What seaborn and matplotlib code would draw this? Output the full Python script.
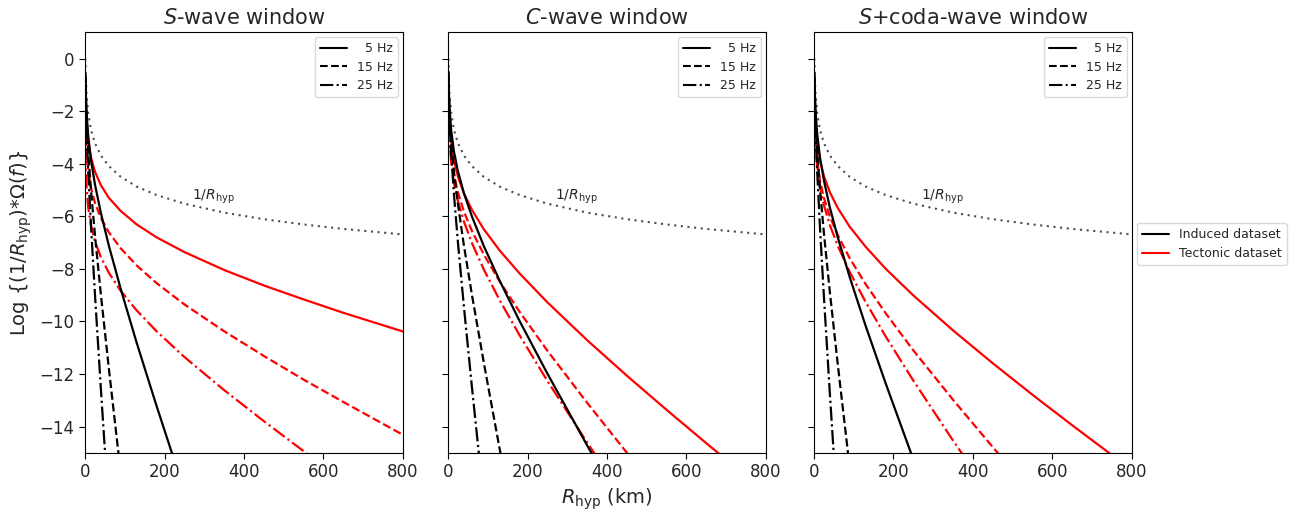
import matplotlib
matplotlib.use("Agg")
import matplotlib.pyplot as plt
import numpy as np
import pandas as pd
import seaborn as sns

# Hypocentral distance samples (km)
r_hyp = [1, 2, 4, 8, 15, 25, 40, 60, 90, 130, 180, 250, 350, 450, 550, 650, 800]

# Geometric spreading reference, log(1/R)
spreading = [0.0, -0.69, -1.39, -2.08, -2.71, -3.22, -3.69, -4.09, -4.50,
             -4.87, -5.19, -5.52, -5.86, -6.11, -6.31, -6.48, -6.69]

frequencies = ["5 Hz", "15 Hz", "25 Hz"]
windows = ["$S$-wave window", "$C$-wave window", "$S$+coda-wave window"]

# S-wave window
s_induced = {
    "5 Hz":  [-0.57, -1.31, -2.08, -2.94, -3.86, -4.79, -5.88, -7.12, -8.77, -10.81, -13.21, -16.45],
    "15 Hz": [-0.62, -1.43, -2.37, -3.54, -5.01, -6.72, -8.99, -11.79, -15.79],
    "25 Hz": [-0.71, -1.61, -2.73, -4.26, -6.36, -8.97, -12.59, -17.19],
}
s_tectonic = {
    "5 Hz":  [-1.00, -1.70, -2.40, -3.11, -3.76, -4.30, -4.82, -5.30, -5.80, -6.31, -6.80, -7.36, -8.04, -8.63, -9.16, -9.67, -10.38],
    "15 Hz": [-2.11, -2.81, -3.51, -4.23, -4.91, -5.49, -6.07, -6.61, -7.22, -7.87, -8.54, -9.35, -10.37, -11.31, -12.21, -13.06, -14.31],
    "25 Hz": [-3.51, -4.21, -4.92, -5.65, -6.35, -6.95, -7.56, -8.15, -8.84, -9.58, -10.37, -11.35, -12.61, -13.79, -14.93, -16.02],
}

# C-wave window
c_induced = {
    "5 Hz":  [-0.49, -1.21, -1.95, -2.74, -3.54, -4.29, -5.12, -6.00, -7.13, -8.45, -9.98, -11.98, -14.71, -17.36],
    "15 Hz": [-0.57, -1.34, -2.18, -3.16, -4.30, -5.54, -7.11, -8.97, -11.56, -14.85, -18.81],
    "25 Hz": [-0.63, -1.46, -2.41, -3.63, -5.18, -7.00, -9.44, -12.47, -16.82],
}
c_tectonic = {
    "5 Hz":  [-1.01, -1.72, -2.43, -3.17, -3.87, -4.49, -5.13, -5.75, -6.49, -7.30, -8.17, -9.27, -10.71, -12.06, -13.36, -14.63, -16.49],
    "15 Hz": [-1.49, -2.20, -2.92, -3.68, -4.43, -5.10, -5.82, -6.55, -7.45, -8.48, -9.63, -11.11, -13.09, -14.99, -16.83],
    "25 Hz": [-1.73, -2.44, -3.18, -3.95, -4.72, -5.43, -6.20, -7.01, -8.02, -9.19, -10.52, -12.26, -14.60, -16.86],
}

# S+coda-wave window
sc_induced = {
    "5 Hz":  [-0.54, -1.27, -2.03, -2.87, -3.76, -4.64, -5.67, -6.81, -8.32, -10.17, -12.34, -15.25],
    "15 Hz": [-0.62, -1.43, -2.36, -3.52, -4.97, -6.66, -8.90, -11.66, -15.59],
    "25 Hz": [-0.71, -1.62, -2.74, -4.30, -6.43, -9.08, -12.77, -17.47],
}
sc_tectonic = {
    "5 Hz":  [-1.01, -1.71, -2.43, -3.16, -3.86, -4.47, -5.09, -5.69, -6.40, -7.16, -7.99, -9.01, -10.34, -11.59, -12.79, -13.95, -15.65],
    "15 Hz": [-1.72, -2.42, -3.15, -3.90, -4.64, -5.31, -6.01, -6.72, -7.60, -8.58, -9.68, -11.10, -12.98, -14.78, -16.54],
    "25 Hz": [-1.89, -2.60, -3.33, -4.10, -4.87, -5.58, -6.34, -7.13, -8.12, -9.26, -10.56, -12.25, -14.53, -16.72],
}

panels = [(s_induced, s_tectonic), (c_induced, c_tectonic), (sc_induced, sc_tectonic)]
dash = {"5 Hz": "-", "15 Hz": "--", "25 Hz": "-."}
dataset_colors = {"Induced dataset": "black", "Tectonic dataset": "red"}

sns.set_style("ticks")
plt.rcParams["font.family"] = ["DejaVu Sans"]
plt.rcParams["mathtext.fontset"] = "dejavusans"

fig = plt.figure(figsize=(13.02, 5.17), dpi=100)
lefts = [0.0653, 0.3441, 0.6252]
axes = []
for left in lefts:
    ax = fig.add_axes([left, 0.1238, 0.2442, 0.8139],
                      sharey=axes[0] if axes else None)
    axes.append(ax)

for ax, title, (induced, tectonic) in zip(axes, windows, panels):
    sns.lineplot(x=r_hyp, y=spreading, ax=ax, color="0.3", linestyle=(0, (1, 2.2)),
                 linewidth=1.5, sort=False)
    for name, series in (("Tectonic dataset", tectonic), ("Induced dataset", induced)):
        for f in frequencies:
            vals = series[f]
            sns.lineplot(x=r_hyp[:len(vals)], y=vals, ax=ax,
                         color=dataset_colors[name], linestyle=dash[f],
                         linewidth=1.6, sort=False)
    ax.text(268, -5.62, "$1/R_{\\mathrm{hyp}}$", fontsize=10, ha="left", va="bottom")
    ax.set_xlim(0, 800)
    ax.set_ylim(-15, 1)
    ax.set_xticks([0, 200, 400, 600, 800])
    ax.set_yticks([0, -2, -4, -6, -8, -10, -12, -14])
    ax.tick_params(labelsize=12, length=4, width=0.8, color="black")
    for sp in ax.spines.values():
        sp.set_linewidth(0.8)
        sp.set_color("black")
    ax.set_title(title, fontsize=15, pad=6)
    ax.set_ylabel("")
    handles = [plt.Line2D([], [], color="black", linestyle=dash[f], linewidth=1.5)
               for f in frequencies]
    ax.legend(handles, ["  5 Hz", "15 Hz", "25 Hz"], loc="upper right",
              fontsize=9, handlelength=2.2, framealpha=1, edgecolor="0.85",
              borderaxespad=0.4, labelspacing=0.45)

for ax in axes[1:]:
    ax.tick_params(labelleft=False)

axes[0].set_ylabel("Log {(1/$R_{\\mathrm{hyp}}$)*$\\Omega(f)$}", fontsize=14)
axes[1].set_xlabel("$R_{\\mathrm{hyp}}$ (km)", fontsize=14)

fig_handles = [plt.Line2D([], [], color=c, linewidth=1.5) for c in dataset_colors.values()]
fig.legend(fig_handles, list(dataset_colors.keys()), loc="center left",
           bbox_to_anchor=(0.871, 0.528), fontsize=9, framealpha=1,
           edgecolor="0.85", handlelength=2.2, borderaxespad=0.2)

fig.savefig("out.png", dpi=100)
